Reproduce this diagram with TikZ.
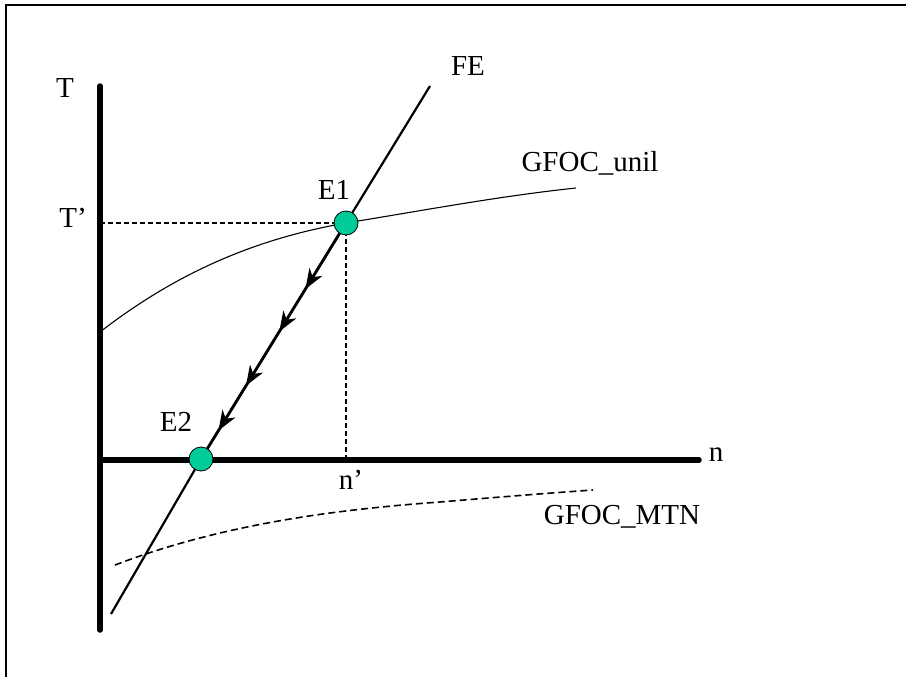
\documentclass[tikz,border=0pt]{standalone}
\usepackage{fontspec}
\setmainfont{Liberation Serif}
\usetikzlibrary{arrows.meta,decorations.markings}
\definecolor{egreen}{RGB}{0,204,153}
\tikzset{
  axisline/.style={line width=5.5pt,line cap=round},
  feline/.style={line width=2.2pt},
  guide/.style={line width=1.6pt,dash pattern=on 5pt off 3pt},
  unil/.style={line width=1.1pt},
  mtn/.style={line width=1.6pt,dash pattern=on 7pt off 4pt},
  eqpt/.style={circle,draw=black,line width=0.8pt,fill=egreen,minimum size=24pt,inner sep=0pt},
  lab/.style={font=\fontsize{29}{34}\selectfont,inner sep=0pt},
  tipmark/.style={decoration={markings,
     mark=at position 0.28 with {\arrow{Stealth[length=20pt,width=15pt,inset=6pt]}},
     mark=at position 0.46 with {\arrow{Stealth[length=20pt,width=15pt,inset=6pt]}},
     mark=at position 0.69 with {\arrow{Stealth[length=20pt,width=15pt,inset=6pt]}},
     mark=at position 0.88 with {\arrow{Stealth[length=20pt,width=15pt,inset=6pt]}}},
     postaction={decorate}}
}
\begin{document}
\begin{tikzpicture}[x=1pt,y=-1pt]
\clip (0,0) rectangle (906,677);
\useasboundingbox (0,0) rectangle (906,677);
\draw[line width=2pt] (6,5) rectangle (930,700);
% coordinates
\coordinate (Ttop) at (100,86);
\coordinate (Tbot) at (100,630);
\coordinate (O) at (100,460);
\coordinate (nend) at (699,460);
\coordinate (e1) at (346,223);
\coordinate (e2) at (201,459);
\coordinate (ftop) at (430,86);
\coordinate (fbot) at (111,614);
\coordinate (tp) at (100,223);
\coordinate (np) at (346,460);
\coordinate (u0) at (100,332);
\coordinate (u1) at (576,188);
\coordinate (m0) at (115,565);
\coordinate (m1) at (593,490);
% axes
\draw[axisline] (Ttop) -- (Tbot);
\draw[axisline] (O) -- (nend);
% guides
\draw[guide] (tp) -- (e1);
\draw[guide] (e1) -- (np);
% GFOC_unil
\draw[unil] (u0) .. controls (180,270) and (260,238) .. (e1)
   .. controls (420,211) and (500,196) .. (u1);
% GFOC_MTN
\draw[mtn] (m0) .. controls (220,525) and (330,510) .. (440,502)
   .. controls (500,497) and (550,493) .. (m1);
% FE line
\draw[feline] (fbot) -- (e2) -- (e1) -- (ftop);
\draw[line width=2.8pt,tipmark] (e1) -- (e2);
% equilibrium points
\node[eqpt] (E1) at (e1) {};
\node[eqpt] (E2) at (e2) {};
% labels
\node[lab] (lT) at (65,88) {T};
\node[lab] (lTp) at (73,218) {T’};
\node[lab] (lFE) at (468,66) {FE};
\node[lab] (lE1) at (334,190) {E1};
\node[lab] (lE2) at (176,422) {E2};
\node[lab] (lnp) at (351,480) {n’};
\node[lab] (ln) at (716,455) {n};
\node[lab] (lunil) at (590,163) {GFOC\_unil};
\node[lab] (lmtn) at (622,517) {GFOC\_MTN};
\end{tikzpicture}
\end{document}
